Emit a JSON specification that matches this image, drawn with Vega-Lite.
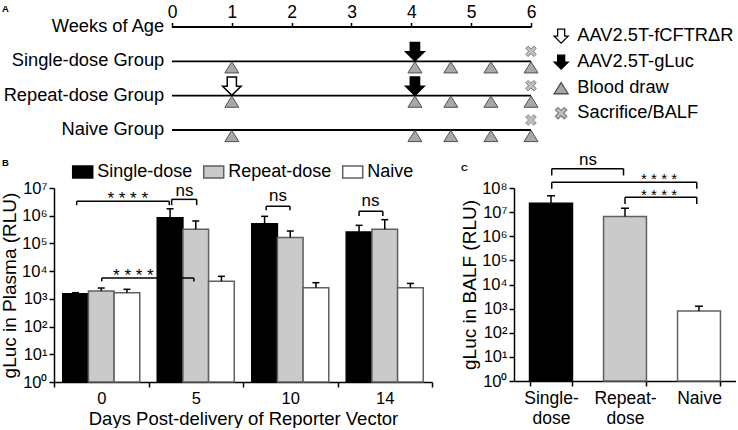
{
  "$schema": "https://vega.github.io/schema/vega-lite/v6.json",
  "padding": {"left": 0, "top": 3, "right": 0, "bottom": 0},
  "bounds": "flush",
  "spacing": 58,
  "config": {
    "font": "Liberation Sans",
    "view": {"stroke": null},
    "axis": {"grid": false, "domainColor": "black", "domainWidth": 1.5, "tickColor": "black", "tickWidth": 1.5, "labelColor": "black", "titleColor": "black", "titleFontWeight": "normal"},
    "legend": {"labelColor": "black"}
  },
  "datasets": {
    "timelineRows": [
      {"row": "Weeks of Age", "start": 0, "end": 6},
      {"row": "Single-dose Group", "start": 0, "end": 6},
      {"row": "Repeat-dose Group", "start": 0, "end": 6},
      {"row": "Naive Group", "start": 0, "end": 6}
    ],
    "timelineEvents": [
      {"row": "Single-dose Group", "week": 1, "event": "Blood draw"},
      {"row": "Single-dose Group", "week": 4.06, "event": "AAV2.5T-gLuc"},
      {"row": "Single-dose Group", "week": 4.06, "event": "Blood draw"},
      {"row": "Single-dose Group", "week": 4.66, "event": "Blood draw"},
      {"row": "Single-dose Group", "week": 5.33, "event": "Blood draw"},
      {"row": "Single-dose Group", "week": 6, "event": "Blood draw"},
      {"row": "Single-dose Group", "week": 6, "event": "Sacrifice/BALF"},
      {"row": "Repeat-dose Group", "week": 1, "event": "AAV2.5T-fCFTRΔR"},
      {"row": "Repeat-dose Group", "week": 1, "event": "Blood draw"},
      {"row": "Repeat-dose Group", "week": 4.06, "event": "AAV2.5T-gLuc"},
      {"row": "Repeat-dose Group", "week": 4.06, "event": "Blood draw"},
      {"row": "Repeat-dose Group", "week": 4.66, "event": "Blood draw"},
      {"row": "Repeat-dose Group", "week": 5.33, "event": "Blood draw"},
      {"row": "Repeat-dose Group", "week": 6, "event": "Blood draw"},
      {"row": "Repeat-dose Group", "week": 6, "event": "Sacrifice/BALF"},
      {"row": "Naive Group", "week": 1, "event": "Blood draw"},
      {"row": "Naive Group", "week": 4.06, "event": "Blood draw"},
      {"row": "Naive Group", "week": 4.66, "event": "Blood draw"},
      {"row": "Naive Group", "week": 5.33, "event": "Blood draw"},
      {"row": "Naive Group", "week": 6, "event": "Blood draw"},
      {"row": "Naive Group", "week": 6, "event": "Sacrifice/BALF"}
    ],
    "plasma": [
      {"day": "0", "group": "Single-dose", "mean": 1540, "upper": 1670},
      {"day": "0", "group": "Repeat-dose", "mean": 1920, "upper": 2460},
      {"day": "0", "group": "Naive", "mean": 1670, "upper": 2210},
      {"day": "5", "group": "Single-dose", "mean": 850000, "upper": 1780000},
      {"day": "5", "group": "Repeat-dose", "mean": 324000, "upper": 645000},
      {"day": "5", "group": "Naive", "mean": 4300, "upper": 6500},
      {"day": "10", "group": "Single-dose", "mean": 515000, "upper": 950000},
      {"day": "10", "group": "Repeat-dose", "mean": 162000, "upper": 280000},
      {"day": "10", "group": "Naive", "mean": 2520, "upper": 3830},
      {"day": "14", "group": "Single-dose", "mean": 258000, "upper": 450000},
      {"day": "14", "group": "Repeat-dose", "mean": 324000, "upper": 720000},
      {"day": "14", "group": "Naive", "mean": 2520, "upper": 3600}
    ],
    "plasmaBrackets": [
      {"x1": 0.24, "x2": 1.22, "y": 3310000, "ydrop": 2400000, "label": "* * * *", "tx": 0.78, "ty": 2750000},
      {"x1": 1.245, "x2": 1.51, "y": 3890000, "ydrop": 2400000, "label": "ns", "tx": 1.38, "ty": 5000000},
      {"x1": 0.505, "x2": 1.48, "y": 5620, "ydrop": 4270, "label": "* * * *", "tx": 0.84, "ty": 4350},
      {"x1": 2.245, "x2": 2.497, "y": 2190000, "ydrop": 1580000, "label": "ns", "tx": 2.37, "ty": 3300000},
      {"x1": 3.228, "x2": 3.48, "y": 1450000, "ydrop": 980000, "label": "ns", "tx": 3.35, "ty": 2170000}
    ],
    "balf": [
      {"group": "Single-dose", "mean": 23400000, "upper": 47600000},
      {"group": "Repeat-dose", "mean": 6560000, "upper": 14500000},
      {"group": "Naive", "mean": 790, "upper": 1260}
    ],
    "balfBrackets": [
      {"x1": 0.51, "x2": 1.48, "y": 631000000, "ydrop": 331000000, "label": "ns", "tx": 1.0, "ty": 891000000},
      {"x1": 0.51, "x2": 2.47, "y": 174000000, "ydrop": 93000000, "label": "* * * *", "tx": 1.96, "ty": 144000000},
      {"x1": 1.5, "x2": 2.47, "y": 41700000, "ydrop": 21900000, "label": "* * * *", "tx": 1.96, "ty": 31000000}
    ]
  },
  "resolve": {
    "scale": {"x": "independent", "y": "independent", "fill": "independent", "stroke": "independent", "shape": "independent"},
    "legend": {"fill": "independent", "stroke": "independent", "shape": "independent"}
  },
  "vconcat": [
    {
      "width": 477,
      "height": 103,
      "title": {"text": "A", "anchor": "start", "frame": "group", "fontSize": 9.5, "fontWeight": "bold", "baseline": "alphabetic", "offset": 0, "dx": -52, "dy": 17.5, "color": "black"},
      "layer": [
        {
          "data": {"name": "timelineRows"},
          "mark": {"type": "rule", "strokeWidth": 1.8, "color": "black"},
          "encoding": {
            "x": {"field": "start", "type": "quantitative", "scale": {"domain": [-1.972, 6], "nice": false, "zero": false},
                  "axis": {"orient": "top", "values": [0, 1, 2, 3, 4, 5, 6], "domain": false, "grid": false, "title": null, "labelFontSize": 17.5, "tickSize": 4.5, "tickWidth": 1.5, "labelPadding": 1, "labelFlush": false, "labelOverlap": false, "format": "d"}},
            "x2": {"field": "end"},
            "y": {"field": "row", "type": "nominal", "scale": {"type": "point", "domain": ["Weeks of Age", "Single-dose Group", "Repeat-dose Group", "Naive Group"], "padding": 0}, "axis": null}
          }
        },
        {
          "data": {"name": "timelineRows"},
          "mark": {"type": "text", "align": "right", "baseline": "middle", "fontSize": 18.3, "color": "black"},
          "encoding": {
            "x": {"datum": -0.13, "type": "quantitative"},
            "y": {"field": "row", "type": "nominal"},
            "text": {"field": "row"}
          }
        },
        {
          "data": {"name": "timelineEvents"},
          "transform": [{"filter": "datum.event == 'Blood draw'"}],
          "mark": {"type": "point", "opacity": 1, "size": 196, "strokeWidth": 1, "yOffset": 6},
          "encoding": {
            "x": {"field": "week", "type": "quantitative"},
            "y": {"field": "row", "type": "nominal"},
            "shape": {"field": "event", "type": "nominal",
                      "scale": {"domain": ["AAV2.5T-fCFTRΔR", "AAV2.5T-gLuc", "Blood draw", "Sacrifice/BALF"],
                                "range": ["M-0.5,-1H0.5V0H1L0,1L-1,0H-0.5Z", "M-0.5,-1H0.5V0H1L0,1L-1,0H-0.5Z", "M0,-0.8L1,0.8L-1,0.8Z", "M0,-0.36L0.44,-0.8L0.8,-0.44L0.36,0L0.8,0.44L0.44,0.8L0,0.36L-0.44,0.8L-0.8,0.44L-0.36,0L-0.8,-0.44L-0.44,-0.8Z"]},
                      "legend": {"orient": "right", "offset": 21, "title": null, "labelFontSize": 18.3, "labelOffset": 7, "rowPadding": 6, "symbolSize": 196, "symbolStrokeWidth": 1.3, "padding": 0, "labelLimit": 300}},
            "fill": {"field": "event", "type": "nominal",
                     "scale": {"domain": ["AAV2.5T-fCFTRΔR", "AAV2.5T-gLuc", "Blood draw", "Sacrifice/BALF"], "range": ["white", "black", "#a8a8a8", "#c0c0c0"]},
                     "legend": {"orient": "right", "offset": 21, "title": null, "labelFontSize": 18.3, "labelOffset": 7, "rowPadding": 6, "symbolSize": 196, "symbolStrokeWidth": 1.3, "padding": 0, "labelLimit": 300}},
            "stroke": {"field": "event", "type": "nominal",
                       "scale": {"domain": ["AAV2.5T-fCFTRΔR", "AAV2.5T-gLuc", "Blood draw", "Sacrifice/BALF"], "range": ["black", "black", "#505050", "#808080"]},
                       "legend": {"orient": "right", "offset": 21, "title": null, "labelFontSize": 18.3, "labelOffset": 7, "rowPadding": 6, "symbolSize": 196, "symbolStrokeWidth": 1.3, "padding": 0, "labelLimit": 300}}
          }
        },
        {
          "data": {"name": "timelineEvents"},
          "transform": [{"filter": "datum.event == 'AAV2.5T-fCFTRΔR' || datum.event == 'AAV2.5T-gLuc'"}],
          "mark": {"type": "point", "opacity": 1, "size": 340, "strokeWidth": 1.5, "yOffset": -9.5},
          "encoding": {
            "x": {"field": "week", "type": "quantitative"},
            "y": {"field": "row", "type": "nominal"},
            "shape": {"field": "event", "type": "nominal"},
            "fill": {"field": "event", "type": "nominal"},
            "stroke": {"field": "event", "type": "nominal"}
          }
        },
        {
          "data": {"name": "timelineEvents"},
          "transform": [{"filter": "datum.event == 'Sacrifice/BALF'"}],
          "mark": {"type": "point", "opacity": 1, "size": 172, "strokeWidth": 1, "yOffset": -10},
          "encoding": {
            "x": {"field": "week", "type": "quantitative"},
            "y": {"field": "row", "type": "nominal"},
            "shape": {"field": "event", "type": "nominal"},
            "fill": {"field": "event", "type": "nominal"},
            "stroke": {"field": "event", "type": "nominal"}
          }
        }
      ]
    },
    {
      "bounds": "flush",
      "spacing": 82,
      "resolve": {
        "scale": {"x": "independent", "y": "independent", "fill": "independent", "stroke": "independent"},
        "legend": {"fill": "independent", "stroke": "independent"}
      },
      "hconcat": [
        {
          "width": 378,
          "height": 194,
          "title": {"text": "B", "anchor": "start", "frame": "group", "fontSize": 9.5, "fontWeight": "bold", "baseline": "alphabetic", "offset": 0, "dx": -52, "dy": 14, "color": "black"},
          "resolve": {"scale": {"x": "independent"}},
          "layer": [
            {
              "data": {"name": "plasma"},
              "layer": [
                {
                  "mark": {"type": "bar", "strokeWidth": 1.5},
                  "encoding": {
                    "x": {"field": "day", "type": "nominal", "sort": ["0", "5", "10", "14"], "scale": {"paddingInner": 0, "paddingOuter": 0},
                          "axis": {"title": "Days Post-delivery of Reporter Vector", "titleFontSize": 18.5, "labelFontSize": 16.5, "labelAngle": 0, "tickBand": "extent", "tickSize": 5, "labelPadding": 3, "titlePadding": 3}},
                    "xOffset": {"field": "group", "type": "nominal", "sort": ["Single-dose", "Repeat-dose", "Naive"], "scale": {"paddingInner": 0, "paddingOuter": 0.34}},
                    "y": {"field": "mean", "type": "quantitative", "scale": {"type": "log", "domain": [1, 10000000], "nice": false},
                          "axis": {"title": "gLuc in Plasma (RLU)", "titleFontSize": 19, "labelFontSize": 16.5, "values": [1, 10, 100, 1000, 10000, 100000, 1000000, 10000000], "labelExpr": "'10' + ['⁰','¹','²','³','⁴','⁵','⁶','⁷','⁸'][round(log(datum.value)/LN10)]", "tickSize": 5, "labelPadding": 2, "titlePadding": 2, "labelOverlap": false}},
                    "y2": {"datum": 1},
                    "fill": {"field": "group", "type": "nominal", "scale": {"domain": ["Single-dose", "Repeat-dose", "Naive"], "range": ["black", "#cacaca", "white"]},
                             "legend": {"orient": "none", "legendX": 17.7, "legendY": -27, "direction": "horizontal", "title": null, "symbolType": "M-1,-0.6H1V0.6H-1Z", "symbolSize": 400, "labelFontSize": 18, "labelOffset": 3.5, "columnPadding": 8, "padding": 0, "symbolStrokeWidth": 1.5}},
                    "stroke": {"field": "group", "type": "nominal", "scale": {"domain": ["Single-dose", "Repeat-dose", "Naive"], "range": ["black", "#606060", "#606060"]},
                             "legend": {"orient": "none", "legendX": 17.7, "legendY": -27, "direction": "horizontal", "title": null, "symbolType": "M-1,-0.6H1V0.6H-1Z", "symbolSize": 400, "labelFontSize": 18, "labelOffset": 3.5, "columnPadding": 8, "padding": 0, "symbolStrokeWidth": 1.5}}
                  }
                },
                {
                  "mark": {"type": "rule", "strokeWidth": 1.5, "color": "black"},
                  "encoding": {
                    "x": {"field": "day", "type": "nominal", "sort": ["0", "5", "10", "14"]},
                    "xOffset": {"field": "group", "type": "nominal", "sort": ["Single-dose", "Repeat-dose", "Naive"]},
                    "y": {"field": "mean", "type": "quantitative"},
                    "y2": {"field": "upper"}
                  }
                },
                {
                  "mark": {"type": "tick", "orient": "horizontal", "size": 7, "thickness": 1.5, "color": "black", "opacity": 1},
                  "encoding": {
                    "x": {"field": "day", "type": "nominal", "sort": ["0", "5", "10", "14"]},
                    "xOffset": {"field": "group", "type": "nominal", "sort": ["Single-dose", "Repeat-dose", "Naive"]},
                    "y": {"field": "upper", "type": "quantitative"}
                  }
                }
              ]
            },
            {
              "data": {"name": "plasmaBrackets"},
              "layer": [
                {
                  "mark": {"type": "rule", "strokeWidth": 1.5, "color": "black"},
                  "encoding": {
                    "x": {"field": "x1", "type": "quantitative", "scale": {"domain": [0, 4], "nice": false, "zero": false}, "axis": null},
                    "x2": {"field": "x2"},
                    "y": {"field": "y", "type": "quantitative"}
                  }
                },
                {
                  "mark": {"type": "rule", "strokeWidth": 1.5, "color": "black"},
                  "encoding": {
                    "x": {"field": "x1", "type": "quantitative"},
                    "y": {"field": "y", "type": "quantitative"},
                    "y2": {"field": "ydrop"}
                  }
                },
                {
                  "mark": {"type": "rule", "strokeWidth": 1.5, "color": "black"},
                  "encoding": {
                    "x": {"field": "x2", "type": "quantitative"},
                    "y": {"field": "y", "type": "quantitative"},
                    "y2": {"field": "ydrop"}
                  }
                },
                {
                  "mark": {"type": "text", "fontSize": 17, "align": "center", "baseline": "alphabetic", "color": "black"},
                  "encoding": {
                    "x": {"field": "tx", "type": "quantitative"},
                    "y": {"field": "ty", "type": "quantitative"},
                    "text": {"field": "label"}
                  }
                }
              ]
            }
          ]
        },
        {
          "width": 222,
          "height": 193,
          "title": {"text": "C", "anchor": "start", "frame": "group", "fontSize": 9.5, "fontWeight": "bold", "baseline": "alphabetic", "offset": 0, "dx": -53, "dy": 29, "color": "black"},
          "resolve": {"scale": {"x": "independent"}},
          "layer": [
            {
              "data": {"name": "balf"},
              "layer": [
                {
                  "mark": {"type": "bar", "strokeWidth": 1.5},
                  "encoding": {
                    "x": {"field": "group", "type": "nominal", "sort": ["Single-dose", "Repeat-dose", "Naive"], "scale": {"paddingInner": 0.42, "paddingOuter": 0.21},
                          "axis": {"title": null, "labelFontSize": 17.5, "labelAngle": 0, "tickBand": "extent", "tickSize": 5, "labelPadding": 3, "labelLineHeight": 20.5, "labelBaseline": "top", "labelExpr": "datum.value == 'Single-dose' ? ['Single-', 'dose'] : datum.value == 'Repeat-dose' ? ['Repeat-', 'dose'] : datum.value"}},
                    "y": {"field": "mean", "type": "quantitative", "scale": {"type": "log", "domain": [1, 100000000], "nice": false},
                          "axis": {"title": "gLuc in BALF (RLU)", "titleFontSize": 19, "labelFontSize": 16.5, "values": [1, 10, 100, 1000, 10000, 100000, 1000000, 10000000, 100000000], "labelExpr": "'10' + ['⁰','¹','²','³','⁴','⁵','⁶','⁷','⁸'][round(log(datum.value)/LN10)]", "tickSize": 5, "labelPadding": 2, "titlePadding": 2, "labelOverlap": false}},
                    "y2": {"datum": 1},
                    "fill": {"field": "group", "type": "nominal", "scale": {"domain": ["Single-dose", "Repeat-dose", "Naive"], "range": ["black", "#cacaca", "white"]}, "legend": null},
                    "stroke": {"field": "group", "type": "nominal", "scale": {"domain": ["Single-dose", "Repeat-dose", "Naive"], "range": ["black", "#606060", "#606060"]}, "legend": null}
                  }
                },
                {
                  "mark": {"type": "rule", "strokeWidth": 1.5, "color": "black"},
                  "encoding": {
                    "x": {"field": "group", "type": "nominal", "sort": ["Single-dose", "Repeat-dose", "Naive"]},
                    "y": {"field": "mean", "type": "quantitative"},
                    "y2": {"field": "upper"}
                  }
                },
                {
                  "mark": {"type": "tick", "orient": "horizontal", "size": 8, "thickness": 1.5, "color": "black", "opacity": 1},
                  "encoding": {
                    "x": {"field": "group", "type": "nominal", "sort": ["Single-dose", "Repeat-dose", "Naive"]},
                    "y": {"field": "upper", "type": "quantitative"}
                  }
                }
              ]
            },
            {
              "data": {"name": "balfBrackets"},
              "layer": [
                {
                  "mark": {"type": "rule", "strokeWidth": 1.5, "color": "black"},
                  "encoding": {
                    "x": {"field": "x1", "type": "quantitative", "scale": {"domain": [0, 3], "nice": false, "zero": false}, "axis": null},
                    "x2": {"field": "x2"},
                    "y": {"field": "y", "type": "quantitative"}
                  }
                },
                {
                  "mark": {"type": "rule", "strokeWidth": 1.5, "color": "black"},
                  "encoding": {
                    "x": {"field": "x1", "type": "quantitative"},
                    "y": {"field": "y", "type": "quantitative"},
                    "y2": {"field": "ydrop"}
                  }
                },
                {
                  "mark": {"type": "rule", "strokeWidth": 1.5, "color": "black"},
                  "encoding": {
                    "x": {"field": "x2", "type": "quantitative"},
                    "y": {"field": "y", "type": "quantitative"},
                    "y2": {"field": "ydrop"}
                  }
                },
                {
                  "transform": [{"filter": "datum.label == 'ns'"}],
                  "mark": {"type": "text", "fontSize": 17, "align": "center", "baseline": "alphabetic", "color": "black"},
                  "encoding": {
                    "x": {"field": "tx", "type": "quantitative"},
                    "y": {"field": "ty", "type": "quantitative"},
                    "text": {"field": "label"}
                  }
                },
                {
                  "transform": [{"filter": "datum.label != 'ns'"}],
                  "mark": {"type": "text", "fontSize": 15, "align": "center", "baseline": "alphabetic", "color": "black"},
                  "encoding": {
                    "x": {"field": "tx", "type": "quantitative"},
                    "y": {"field": "ty", "type": "quantitative"},
                    "text": {"field": "label"}
                  }
                }
              ]
            }
          ]
        }
      ]
    }
  ]
}
